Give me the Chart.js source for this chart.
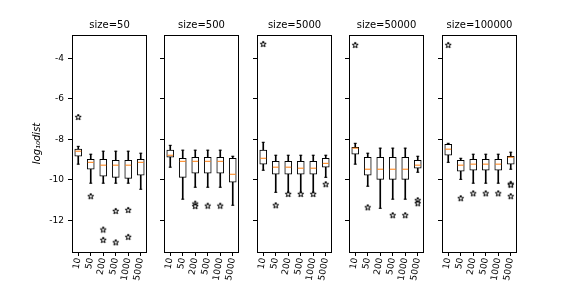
<!DOCTYPE html>
<html>
<head>
<meta charset="utf-8">
<script src="https://cdn.jsdelivr.net/npm/chart.js@4.4.0/dist/chart.umd.min.js"></script>
<style>
  body { margin: 0; background: #fff; width: 576px; height: 288px; position: relative; overflow: hidden; }
  canvas { position: absolute; top: 0; }
</style>
</head>
<body>
<script>
// panel titles, categories and y ticks
const sizes = ['size=50', 'size=500', 'size=5000', 'size=50000', 'size=100000'];
const categories = ['10', '50', '200', '500', '1000', '5000'];
const yTicks = [-12, -10, -8, -6, -4];

// box statistics, one row per panel, one column per category
const whiskerLow = [
  [-9.23, -10.17, -10.17, -10.17, -10.17, -10.47],
  [-9.38, -10.96, -10.37, -10.37, -10.37, -11.26],
  [-9.53, -10.62, -10.67, -10.67, -10.67, -9.88],
  [-9.23, -10.32, -11.41, -10.96, -10.96, -9.63],
  [-9.14, -9.98, -10.17, -10.17, -10.17, -9.48]
];
const boxLow = [
  [-8.84, -9.48, -9.83, -9.88, -9.93, -9.78],
  [-8.89, -9.88, -9.68, -9.68, -9.68, -10.12],
  [-9.23, -9.73, -9.73, -9.73, -9.73, -9.38],
  [-8.74, -9.78, -9.98, -9.98, -9.98, -9.43],
  [-8.79, -9.58, -9.53, -9.53, -9.53, -9.23]
];
const medians = [
  [-8.59, -9.14, -9.28, -9.28, -9.28, -9.14],
  [-8.79, -9.09, -9.09, -9.09, -9.09, -9.73],
  [-8.94, -9.38, -9.38, -9.43, -9.43, -9.19],
  [-8.44, -9.48, -9.48, -9.48, -9.48, -9.28],
  [-8.49, -9.28, -9.23, -9.23, -9.23, -8.89]
];
const boxHigh = [
  [-8.49, -8.99, -8.99, -9.04, -9.04, -8.99],
  [-8.54, -8.94, -8.89, -8.89, -8.89, -8.94],
  [-8.54, -9.09, -9.09, -9.09, -9.09, -8.94],
  [-8.40, -8.89, -8.89, -8.89, -8.89, -9.04],
  [-8.25, -9.04, -8.99, -8.99, -8.99, -8.84]
];
const whiskerHigh = [
  [-8.35, -8.74, -8.59, -8.59, -8.59, -8.69],
  [-8.30, -8.54, -8.54, -8.54, -8.54, -8.84],
  [-8.15, -8.79, -8.79, -8.79, -8.79, -8.79],
  [-8.20, -8.69, -8.44, -8.44, -8.44, -8.84],
  [-8.20, -8.94, -8.74, -8.74, -8.74, -8.64]
];
// outliers: [panel, category, value]
const outliers = [
  [0, '10', -6.9], [0, '50', -10.81], [0, '200', -12.46], [0, '200', -12.97],
  [0, '500', -11.54], [0, '500', -13.09], [0, '1000', -11.49], [0, '1000', -12.82],
  [1, '200', -11.18], [1, '200', -11.3], [1, '500', -11.28], [1, '1000', -11.28],
  [2, '10', -3.29], [2, '50', -11.26], [2, '200', -10.7], [2, '500', -10.7],
  [2, '1000', -10.7], [2, '5000', -10.22],
  [3, '10', -3.34], [3, '50', -11.36], [3, '500', -11.75], [3, '1000', -11.75],
  [3, '5000', -11.01], [3, '5000', -11.16],
  [4, '10', -3.34], [4, '50', -10.91], [4, '200', -10.67], [4, '500', -10.67],
  [4, '1000', -10.67], [4, '5000', -10.2], [4, '5000', -10.25], [4, '5000', -10.81]
];

// layout of the five panels
const panelLeft = [72, 164, 257, 349, 442];
const panelWidth = 78;
const fontFamily = 'DejaVu Sans';

// hollow star marker like matplotlib '*'
function makeStar() {
  const c = document.createElement('canvas');
  c.width = 8;
  c.height = 8;
  const g = c.getContext('2d');
  g.beginPath();
  for (let k = 0; k < 10; k++) {
    const r = k % 2 ? 1.3 : 3.2;
    const a = -Math.PI / 2 + k * Math.PI / 5;
    g.lineTo(4 + r * Math.cos(a), 4.3 + r * Math.sin(a));
  }
  g.closePath();
  g.fillStyle = '#fff';
  g.fill();
  g.strokeStyle = '#000';
  g.lineWidth = 1;
  g.stroke();
  return c;
}
const star = makeStar();

// frame around the plot area
const framePlugin = {
  id: 'frame',
  afterDraw(chart) {
    const a = chart.chartArea;
    const ctx = chart.ctx;
    ctx.save();
    ctx.strokeStyle = '#000';
    ctx.lineWidth = 1;
    ctx.strokeRect(Math.round(a.left) + 0.5, Math.round(a.top) + 0.5,
                   Math.round(a.right - a.left) - 1, Math.round(a.bottom - a.top));
    ctx.restore();
  }
};

for (let i = 0; i < sizes.length; i++) {
  const yw = i === 0 ? 72 : 10;
  const canvas = document.createElement('canvas');
  canvas.width = yw + panelWidth + 2;
  canvas.height = 288;
  canvas.style.left = (panelLeft[i] - yw) + 'px';
  document.body.appendChild(canvas);

  const caps = [];
  categories.forEach((c, j) => {
    caps.push({ x: c, y: whiskerLow[i][j] });
    caps.push({ x: c, y: whiskerHigh[i][j] });
  });

  new Chart(canvas, {
    type: 'bar',
    data: {
      labels: categories,
      datasets: [
        {
          type: 'bar',
          label: 'whisker',
          data: categories.map((c, j) => [whiskerLow[i][j], whiskerHigh[i][j]]),
          backgroundColor: '#000',
          barThickness: 1,
          grouped: false,
          order: 5
        },
        {
          type: 'bar',
          label: 'box',
          data: categories.map((c, j) => [boxLow[i][j], boxHigh[i][j]]),
          backgroundColor: '#fff',
          borderColor: '#000',
          borderWidth: 1,
          borderSkipped: false,
          barThickness: 7,
          grouped: false,
          order: 4
        },
        {
          type: 'line',
          label: 'caps',
          data: caps,
          showLine: false,
          pointStyle: 'line',
          pointRadius: 1.5,
          pointBorderColor: '#000',
          pointBorderWidth: 1,
          order: 3
        },
        {
          type: 'line',
          label: 'median',
          data: categories.map((c, j) => ({ x: c, y: medians[i][j] })),
          showLine: false,
          pointStyle: 'line',
          pointRadius: 3,
          pointBorderColor: '#ff7f0e',
          pointBorderWidth: 1,
          order: 2
        },
        {
          type: 'line',
          label: 'outliers',
          data: outliers.filter(o => o[0] === i).map(o => ({ x: o[1], y: o[2] })),
          showLine: false,
          pointStyle: star,
          pointRadius: 4,
          order: 1
        }
      ]
    },
    options: {
      responsive: false,
      animation: false,
      events: [],
      layout: { padding: { left: 0, right: 2, top: 0, bottom: 0 } },
      scales: {
        x: {
          type: 'category',
          offset: true,
          grid: { offset: false, drawOnChartArea: false, tickLength: 4, color: '#000' },
          border: { display: false },
          ticks: {
            autoSkip: false, minRotation: 80, maxRotation: 80, padding: 1,
            color: '#000', font: { family: fontFamily, size: 9 }
          },
          afterFit: s => { s.height = 36; s.paddingLeft = 0; s.paddingRight = 0; }
        },
        y: {
          type: 'linear',
          min: -13.57,
          max: -2.85,
          afterBuildTicks: s => { s.ticks = yTicks.map(v => ({ value: v })); },
          grid: { drawOnChartArea: false, tickLength: 4, color: '#000' },
          border: { display: false },
          ticks: {
            display: i === 0, padding: 4, color: '#000',
            font: { family: fontFamily, size: 9 }
          },
          title: {
            display: i === 0,
            text: 'log\u2081\u2080dist',
            color: '#000',
            padding: { top: 31, bottom: 0 },
            font: { family: fontFamily, size: 10, style: 'italic' }
          },
          afterFit: s => { s.width = yw; s.paddingTop = 0; s.paddingBottom = 0; }
        }
      },
      plugins: {
        legend: { display: false },
        tooltip: { enabled: false },
        title: {
          display: true,
          text: sizes[i],
          fullSize: false,
          color: '#000',
          padding: { top: 19, bottom: 4 },
          font: { family: fontFamily, size: 10, weight: 'normal' }
        }
      }
    },
    plugins: [framePlugin]
  });
}
</script>
</body>
</html>
